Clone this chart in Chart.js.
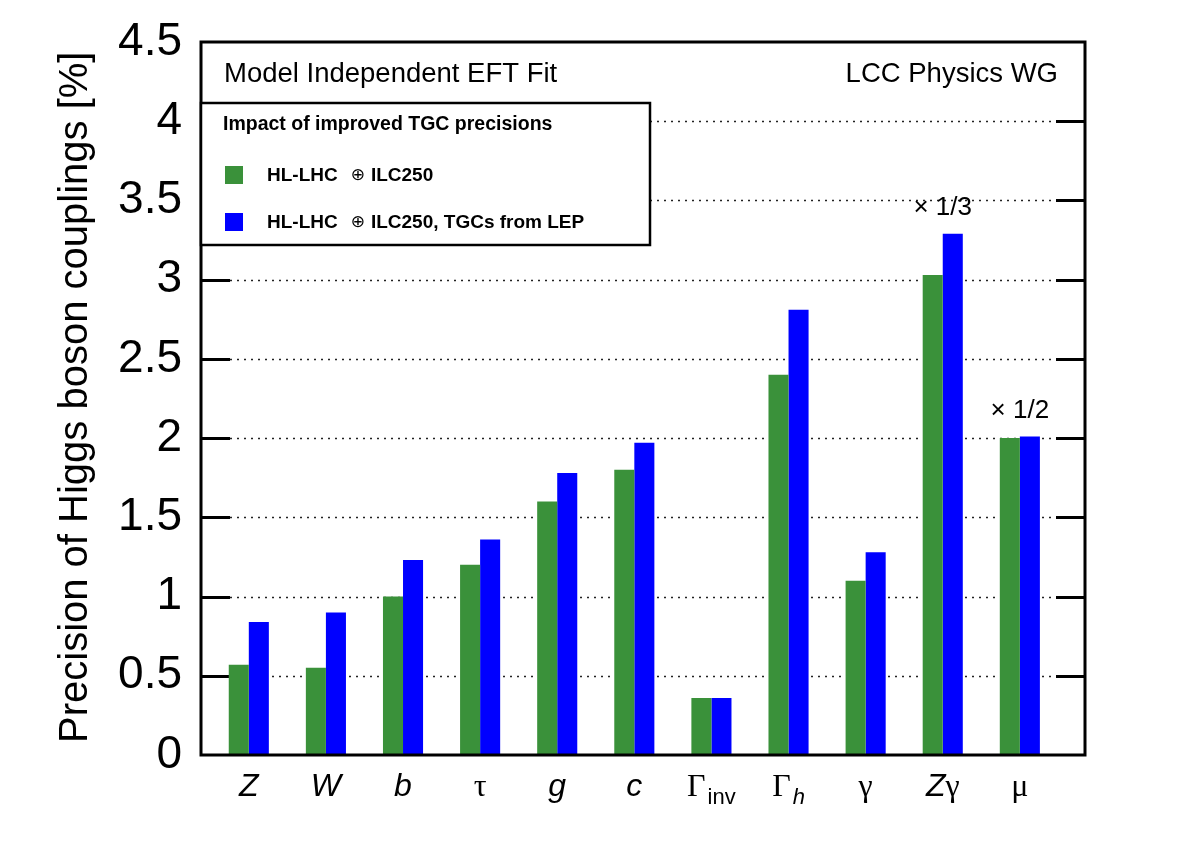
<!DOCTYPE html>
<html>
<head>
<meta charset="utf-8">
<title>Precision of Higgs boson couplings</title>
<script src="https://cdn.jsdelivr.net/npm/chart.js@4.4.1/dist/chart.umd.min.js"></script>
<style>
  body { margin: 0; background: #fff; }
  #wrap { width: 1182px; height: 859px; }
</style>
</head>
<body>
<div id="wrap"><canvas id="barChart" width="1182" height="859"></canvas></div>
<script>
/*==========================================================
 DATOS
==========================================================*/
// each label is a list of pieces: it = italic, gr = greek (symbol font), sub = subscript
const categoryLabels = [
  [{ t: "Z", it: true }],
  [{ t: "W", it: true }],
  [{ t: "b", it: true }],
  [{ t: "τ", gr: true }],
  [{ t: "g", it: true }],
  [{ t: "c", it: true }],
  [{ t: "Γ", gr: true }, { t: "inv", sub: true }],
  [{ t: "Γ", gr: true }, { t: "h", sub: true, it: true }],
  [{ t: "γ", gr: true }],
  [{ t: "Z", it: true }, { t: "γ", gr: true }],
  [{ t: "μ", gr: true }],
];
const seriesNames = ["HL-LHC \u2295 ILC250", "HL-LHC \u2295 ILC250, TGCs from LEP"];
const valuesILC = [0.57, 0.55, 1.0, 1.2, 1.6, 1.8, 0.36, 2.4, 1.1, 3.03, 2.0];
const valuesLEP = [0.84, 0.9, 1.23, 1.36, 1.78, 1.97, 0.36, 2.81, 1.28, 3.29, 2.01];
const scaleNotes = ["", "", "", "", "", "", "", "", "", "\u00d7 1/3", "\u00d7 1/2"];
const yTicks = [0, 0.5, 1, 1.5, 2, 2.5, 3, 3.5, 4, 4.5];

const SANS = "'Liberation Sans', Arial, sans-serif";
const SERIF = "'Liberation Serif', 'DejaVu Serif', serif";
const TICK = 29;

/*==========================================================
 DIBUJO DEL MARCO, REJILLA Y TEXTOS
==========================================================*/
function line(ctx, x1, y1, x2, y2) {
  ctx.beginPath();
  ctx.moveTo(x1, y1);
  ctx.lineTo(x2, y2);
  ctx.stroke();
}

function pieceFont(p) {
  let size = p.sub ? 22 : 32;
  let fam = p.gr ? SERIF : SANS;
  return (p.it ? "italic " : "") + size + "px " + fam;
}

// legend label: bold text, the ⊕ sign thin and smaller
function legendText(ctx, txt, px, py) {
  let parts = txt.split("\u2295").map((s) => s.trim());
  parts.forEach((s, i) => {
    if (i > 0) {
      px += 13;
      ctx.font = "17px 'DejaVu Sans', " + SANS;
      ctx.fillText("\u2295", px, py);
      px += ctx.measureText("\u2295").width + 6;
    }
    ctx.font = "bold 19px " + SANS;
    ctx.fillText(s, px, py);
    px += ctx.measureText(s).width;
  });
}

const framePlugin = {
  id: "frame",
  beforeDatasetsDraw(chart) {
    const { ctx, chartArea: a } = chart;
    const y = chart.scales.y;
    ctx.save();
    y.ticks.forEach((tk, i) => {
      if (i === 0 || i === y.ticks.length - 1) return;
      let py = Math.round(y.getPixelForValue(tk.value)) + 0.5;
      ctx.setLineDash([2, 5]);
      ctx.lineWidth = 1.6;
      ctx.strokeStyle = "#222";
      line(ctx, a.left + TICK, py, a.right - TICK, py);
      ctx.setLineDash([]);
      ctx.lineWidth = 3;
      ctx.strokeStyle = "#000";
      line(ctx, a.left, py, a.left + TICK, py);
      line(ctx, a.right - TICK, py, a.right, py);
    });
    ctx.restore();
  },
  afterDraw(chart) {
    const { ctx, chartArea: a } = chart;
    const x = chart.scales.x;
    const y = chart.scales.y;
    ctx.save();
    ctx.fillStyle = "#000";

    // frame
    ctx.lineWidth = 3;
    ctx.strokeStyle = "#000";
    ctx.strokeRect(a.left, a.top, a.right - a.left, a.bottom - a.top);

    // header texts
    ctx.font = "27.5px " + SANS;
    ctx.textBaseline = "middle";
    ctx.textAlign = "left";
    ctx.fillText("Model Independent EFT Fit", a.left + 23, 74);
    ctx.textAlign = "right";
    ctx.fillText("LCC Physics WG", a.right - 27, 74);

    // legend box
    ctx.fillStyle = "#fff";
    ctx.fillRect(a.left, 103, 449, 142);
    ctx.lineWidth = 2.5;
    ctx.strokeRect(a.left, 103, 449, 142);
    ctx.fillStyle = "#000";
    ctx.textAlign = "left";
    ctx.font = "bold 19.5px " + SANS;
    ctx.fillText("Impact of improved TGC precisions", a.left + 22, 125);
    chart.data.datasets.forEach((ds, i) => {
      let cy = 175 + i * 47;
      ctx.fillStyle = ds.backgroundColor;
      ctx.fillRect(a.left + 24, cy - 9, 18, 18);
      ctx.fillStyle = "#000";
      legendText(ctx, ds.label, a.left + 66, cy + 1);
    });

    // category labels under the axis
    ctx.textBaseline = "alphabetic";
    categoryLabels.forEach((parts, i) => {
      let total = 0;
      parts.forEach((p) => {
        ctx.font = pieceFont(p);
        total += ctx.measureText(p.t).width + (p.sub ? 2 : 0);
      });
      let px = x.getPixelForValue(i) - total / 2;
      parts.forEach((p) => {
        ctx.font = pieceFont(p);
        ctx.fillText(p.t, px + (p.sub ? 2 : 0), p.sub ? 804 : 796);
        px += ctx.measureText(p.t).width + (p.sub ? 2 : 0);
      });
    });

    // scale factor notes
    ctx.font = "26px " + SANS;
    ctx.textAlign = "center";
    ctx.textBaseline = "middle";
    scaleNotes.forEach((txt, i) => {
      if (!txt) return;
      let top = Math.max(valuesILC[i], valuesLEP[i]);
      ctx.fillText(txt, x.getPixelForValue(i), y.getPixelForValue(top) - 26);
    });

    // y axis title
    ctx.translate(87, 743);
    ctx.rotate(-Math.PI / 2);
    ctx.font = "40px " + SANS;
    ctx.textAlign = "left";
    ctx.textBaseline = "alphabetic";
    ctx.fillText("Precision of Higgs boson couplings [%]", 0, 0);
    ctx.restore();
  },
};

/*==========================================================
 GRAFICO
==========================================================*/
function mostrarGrafico() {
  let ctxB = document.getElementById("barChart").getContext("2d");
  new Chart(ctxB, {
    type: "bar",
    data: {
      datasets: [
        {
          label: seriesNames[0],
          data: valuesILC.map((v, i) => ({ x: i, y: v })),
          backgroundColor: "#3a913a",
          borderWidth: 0,
        },
        {
          label: seriesNames[1],
          data: valuesLEP.map((v, i) => ({ x: i, y: v })),
          backgroundColor: "#0000ff",
          borderWidth: 0,
        },
      ],
    },
    options: {
      responsive: false,
      animation: false,
      events: [],
      categoryPercentage: 0.52,
      barPercentage: 1.0,
      layout: { padding: { left: 0, top: 42, right: 97, bottom: 104 } },
      plugins: { legend: { display: false }, tooltip: { enabled: false } },
      scales: {
        x: {
          type: "linear",
          display: false,
          offset: false,
          grid: { offset: false },
          min: -0.62,
          max: 10.845,
          afterBuildTicks: (axis) => {
            axis.ticks = categoryLabels.map((c, i) => ({ value: i }));
          },
        },
        y: {
          min: 0,
          max: 4.5,
          afterBuildTicks: (axis) => {
            axis.ticks = yTicks.map((v) => ({ value: v }));
          },
          afterFit: (axis) => {
            axis.width = 201;
            axis.paddingTop = 0;
            axis.paddingBottom = 0;
          },
          grid: { display: false, drawTicks: false },
          border: { display: false },
          ticks: {
            padding: 19,
            color: "#000",
            font: { family: SANS, size: 46 },
            callback: (v) => String(v),
          },
        },
      },
    },
    plugins: [framePlugin],
  });
}

mostrarGrafico();
</script>
</body>
</html>
